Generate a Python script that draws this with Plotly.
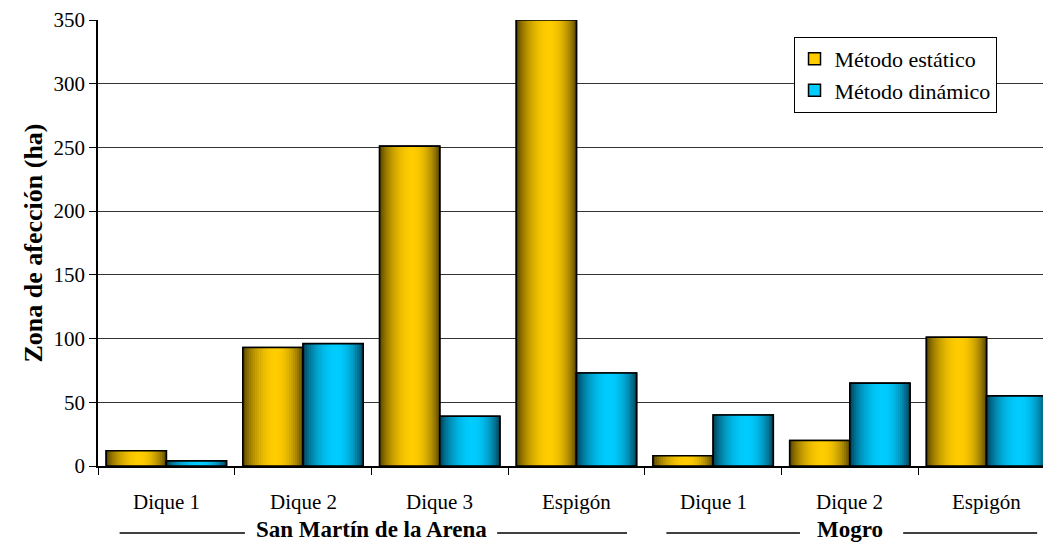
import math
import plotly.graph_objects as go

# Data
categories = ["Dique 1", "Dique 2", "Dique 3", "Espigón", "Dique 1", "Dique 2", "Espigón"]
groups = ["San Martín de la Arena", "Mogro"]
group_sizes = [4, 3]
metodo_estatico = [12, 93, 251, 350, 8, 20, 101]
metodo_dinamico = [4, 96, 39, 73, 40, 65, 55]
series_names = ["Método estático", "Método dinámico"]
y_ticks = [0, 50, 100, 150, 200, 250, 300, 350]

FONT = "Liberation Serif, Times New Roman, serif"
x_pos = list(range(len(categories)))
bar_w = 0.44
n_strips = 30

# dark edge colour, bright centre colour per series
palettes = [((72, 57, 0), (255, 204, 0)), ((0, 52, 72), (0, 204, 255))]
solid = ["#FFCC00", "#00CCFF"]


def shade(t, dark, bright):
    # cylinder-like shading: dark at both edges, brightest a little right of centre
    peak = 0.55
    if t < peak:
        f = math.sin(math.pi / 2 * t / peak)
    else:
        f = math.sin(math.pi / 2 * (1 - t) / (1 - peak))
    f = max(0.0, min(1.0, f)) ** 0.7
    c = [round(d + (b - d) * f) for d, b in zip(dark, bright)]
    return f"rgb({c[0]},{c[1]},{c[2]})"


fig = go.Figure()
values = [metodo_estatico, metodo_dinamico]
for s, (name, vals) in enumerate(zip(series_names, values)):
    base_off = -bar_w if s == 0 else 0.0
    # legend-carrying base bar
    fig.add_trace(go.Bar(
        x=x_pos, y=vals, name=name, legendgroup=name,
        width=bar_w, offset=base_off,
        marker=dict(color=solid[s], line=dict(color="black", width=1.5)),
        hoverinfo="skip",
    ))
    dark, bright = palettes[s]
    step = bar_w / n_strips
    for k in range(n_strips):
        w = step * 1.6 if k < n_strips - 1 else step
        fig.add_trace(go.Bar(
            x=x_pos, y=vals, showlegend=False, legendgroup=name,
            width=w, offset=base_off + k * step,
            marker=dict(color=shade((k + 0.5) / n_strips, dark, bright), line=dict(width=0)),
            hoverinfo="skip",
        ))
    # outline on top
    fig.add_trace(go.Bar(
        x=x_pos, y=vals, showlegend=False, legendgroup=name,
        width=bar_w, offset=base_off,
        marker=dict(color="rgba(0,0,0,0)", line=dict(color="black", width=1.6)),
        hoverinfo="skip",
    ))

# category labels and group labels below the axis
annotations = []
for i, c in enumerate(categories):
    annotations.append(dict(
        x=i, y=-0.081, xref="x", yref="paper", text=c, showarrow=False,
        font=dict(family=FONT, size=21, color="black"), yanchor="middle",
    ))

shapes = []
start = 0
text_gap = [(0.925, 0.92), (0.365, 0.39)]
for g, size, (gap_l, gap_r) in zip(groups, group_sizes, text_gap):
    left = start - 0.5
    right = start + size - 0.5
    centre = (left + right) / 2
    annotations.append(dict(
        x=centre, y=-0.143, xref="x", yref="paper", text=f"<b>{g}</b>", showarrow=False,
        font=dict(family=FONT, size=23, color="black"), yanchor="middle",
    ))
    for x0, x1 in [(left + 0.158, centre - gap_l), (centre + gap_r, right - 0.13)]:
        shapes.append(dict(type="line", xref="x", yref="paper", x0=x0, x1=x1,
                           y0=-0.150, y1=-0.150, line=dict(color="black", width=1.5)))
    start += size

fig.update_layout(
    barmode="overlay",
    width=1043, height=542,
    margin=dict(l=98, r=0, t=20, b=76),
    paper_bgcolor="white", plot_bgcolor="white",
    font=dict(family=FONT, size=21, color="black"),
    annotations=annotations, shapes=shapes,
    legend=dict(
        x=0.736, y=0.962, xanchor="left", yanchor="top",
        bgcolor="white", bordercolor="black", borderwidth=1,
        font=dict(family=FONT, size=22, color="black"),
        tracegroupgap=0, traceorder="grouped",
    ),
    showlegend=True,
)

fig.update_xaxes(
    range=[-0.5, 6.413], showgrid=False, zeroline=False,
    showline=True, linecolor="black", linewidth=1.5,
    tickvals=x_pos, ticktext=[""] * len(categories), ticks="",
    minor=dict(tickvals=[i - 0.5 for i in range(len(categories) + 1)],
               ticks="outside", ticklen=7, tickcolor="black", tickwidth=1.2),
)
fig.update_yaxes(
    range=[0, 350], tickvals=y_ticks, showgrid=True, gridcolor="#333333", gridwidth=1,
    zeroline=False, showline=True, linecolor="black", linewidth=1.5,
    ticks="outside", ticklen=7, tickcolor="black",
    tickfont=dict(family=FONT, size=21, color="black"),
    title=dict(text="<b>Zona de afección (ha)</b>", font=dict(family=FONT, size=26, color="black"), standoff=3),
)

fig.write_html("out.html")
